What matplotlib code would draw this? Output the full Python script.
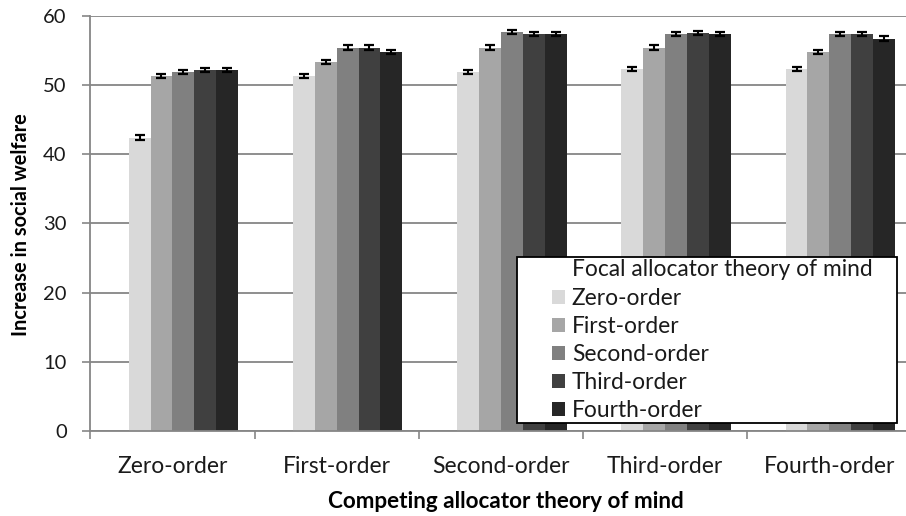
import matplotlib
matplotlib.use("Agg")
import matplotlib.pyplot as plt
import numpy as np
from matplotlib.patches import Patch, Rectangle

categories = ["Zero-order", "First-order", "Second-order", "Third-order", "Fourth-order"]
series_names = ["Zero-order", "First-order", "Second-order", "Third-order", "Fourth-order"]
zero_order = [42.4, 51.3, 51.9, 52.3, 52.3]
first_order = [51.3, 53.3, 55.4, 55.4, 54.8]
second_order = [51.9, 55.4, 57.6, 57.4, 57.4]
third_order = [52.2, 55.4, 57.3, 57.5, 57.4]
fourth_order = [52.2, 54.8, 57.3, 57.4, 56.7]
errors = [0.3, 0.3, 0.3, 0.3, 0.3]
colors = ["#d9d9d9", "#a6a6a6", "#808080", "#404040", "#262626"]
legend_title = "Focal allocator theory of mind"

series = [zero_order, first_order, second_order, third_order, fourth_order]

FONT = "Lato"
plt.rcParams['font.family'] = [FONT, 'DejaVu Sans']

fig = plt.figure(figsize=(9.06, 5.16), dpi=100)
W, H = 906, 516
left, right, top, bottom = 90.3, 911.5, 15.7, 431.0
ax = fig.add_axes([left / W, 1 - bottom / H, (right - left) / W, (bottom - top) / H])

x = np.arange(len(categories))
w = 0.1333
offsets = [-1.5, -0.5, 0.5, 1.5, 2.5]
for i, vals in enumerate(series):
    ax.bar(x + offsets[i] * w, vals, width=w, color=colors[i], zorder=2,
           yerr=errors, error_kw=dict(ecolor="black", elinewidth=1.5, capsize=3.8, capthick=1.6, zorder=3))

ax.set_xlim(-0.5, 4.5)
ax.set_ylim(0, 60)
ax.set_yticks(np.arange(0, 61, 10))
ax.set_xticks(np.arange(-0.5, 4.6, 1.0), minor=False)
ax.set_xticklabels([])
ax.set_xticks(x, minor=True)
ax.set_xticklabels(categories, minor=True)
ax.tick_params(axis='x', which='minor', length=0, pad=18, labelsize=16.5, labelcolor="#1a1a1a")
ax.tick_params(axis='x', which='major', length=5.5, width=1.2, color="#868686", direction="out")
ax.tick_params(axis='y', length=6, width=1.2, color="#868686", labelsize=14.5, labelcolor="#1a1a1a", pad=11)
ax.yaxis.grid(True, color="#868686", linewidth=1.3, zorder=0)
ax.set_axisbelow(True)
for s in ["top", "right"]:
    ax.spines[s].set_visible(False)
for s in ["left", "bottom"]:
    ax.spines[s].set_color("#868686")
    ax.spines[s].set_linewidth(1.3)

ax.set_ylabel("Increase in social welfare", fontsize=14.4, fontweight="bold")
ax.set_xlabel("Competing allocator theory of mind", fontsize=16.2, fontweight="bold")
ax.xaxis.set_label_coords(506 / W, 1 - 501.7 / H, transform=fig.transFigure)
ax.xaxis.label.set_va("center")
ax.yaxis.set_label_coords(21 / W, 1 - 224.5 / H, transform=fig.transFigure)
ax.yaxis.label.set_va("center")

# legend box
box = Rectangle((517 / W, 1 - 422.7 / H), (896.7 - 517) / W, (422.7 - 256.7) / H,
                transform=fig.transFigure, facecolor="white", edgecolor="black",
                linewidth=1.3, zorder=5)
fig.add_artist(box)
fig.text(571.7 / W, 1 - 269 / H, legend_title, fontsize=16.4, va="center", ha="left",
         color="#1a1a1a", zorder=6)
handles = [Patch(facecolor=c, edgecolor="none") for c in colors]
leg = fig.legend(handles, series_names, loc="upper left",
                 bbox_to_anchor=(551.7 / W, 1 - 288 / H), bbox_transform=fig.transFigure,
                 fontsize=16.4, frameon=False, borderpad=0, borderaxespad=0,
                 handlelength=0.58, handleheight=0.58, handletextpad=0.3, labelspacing=0.31)
for t in leg.get_texts():
    t.set_color("#1a1a1a")
leg.set_zorder(6)

fig.savefig("out.png", dpi=100)
